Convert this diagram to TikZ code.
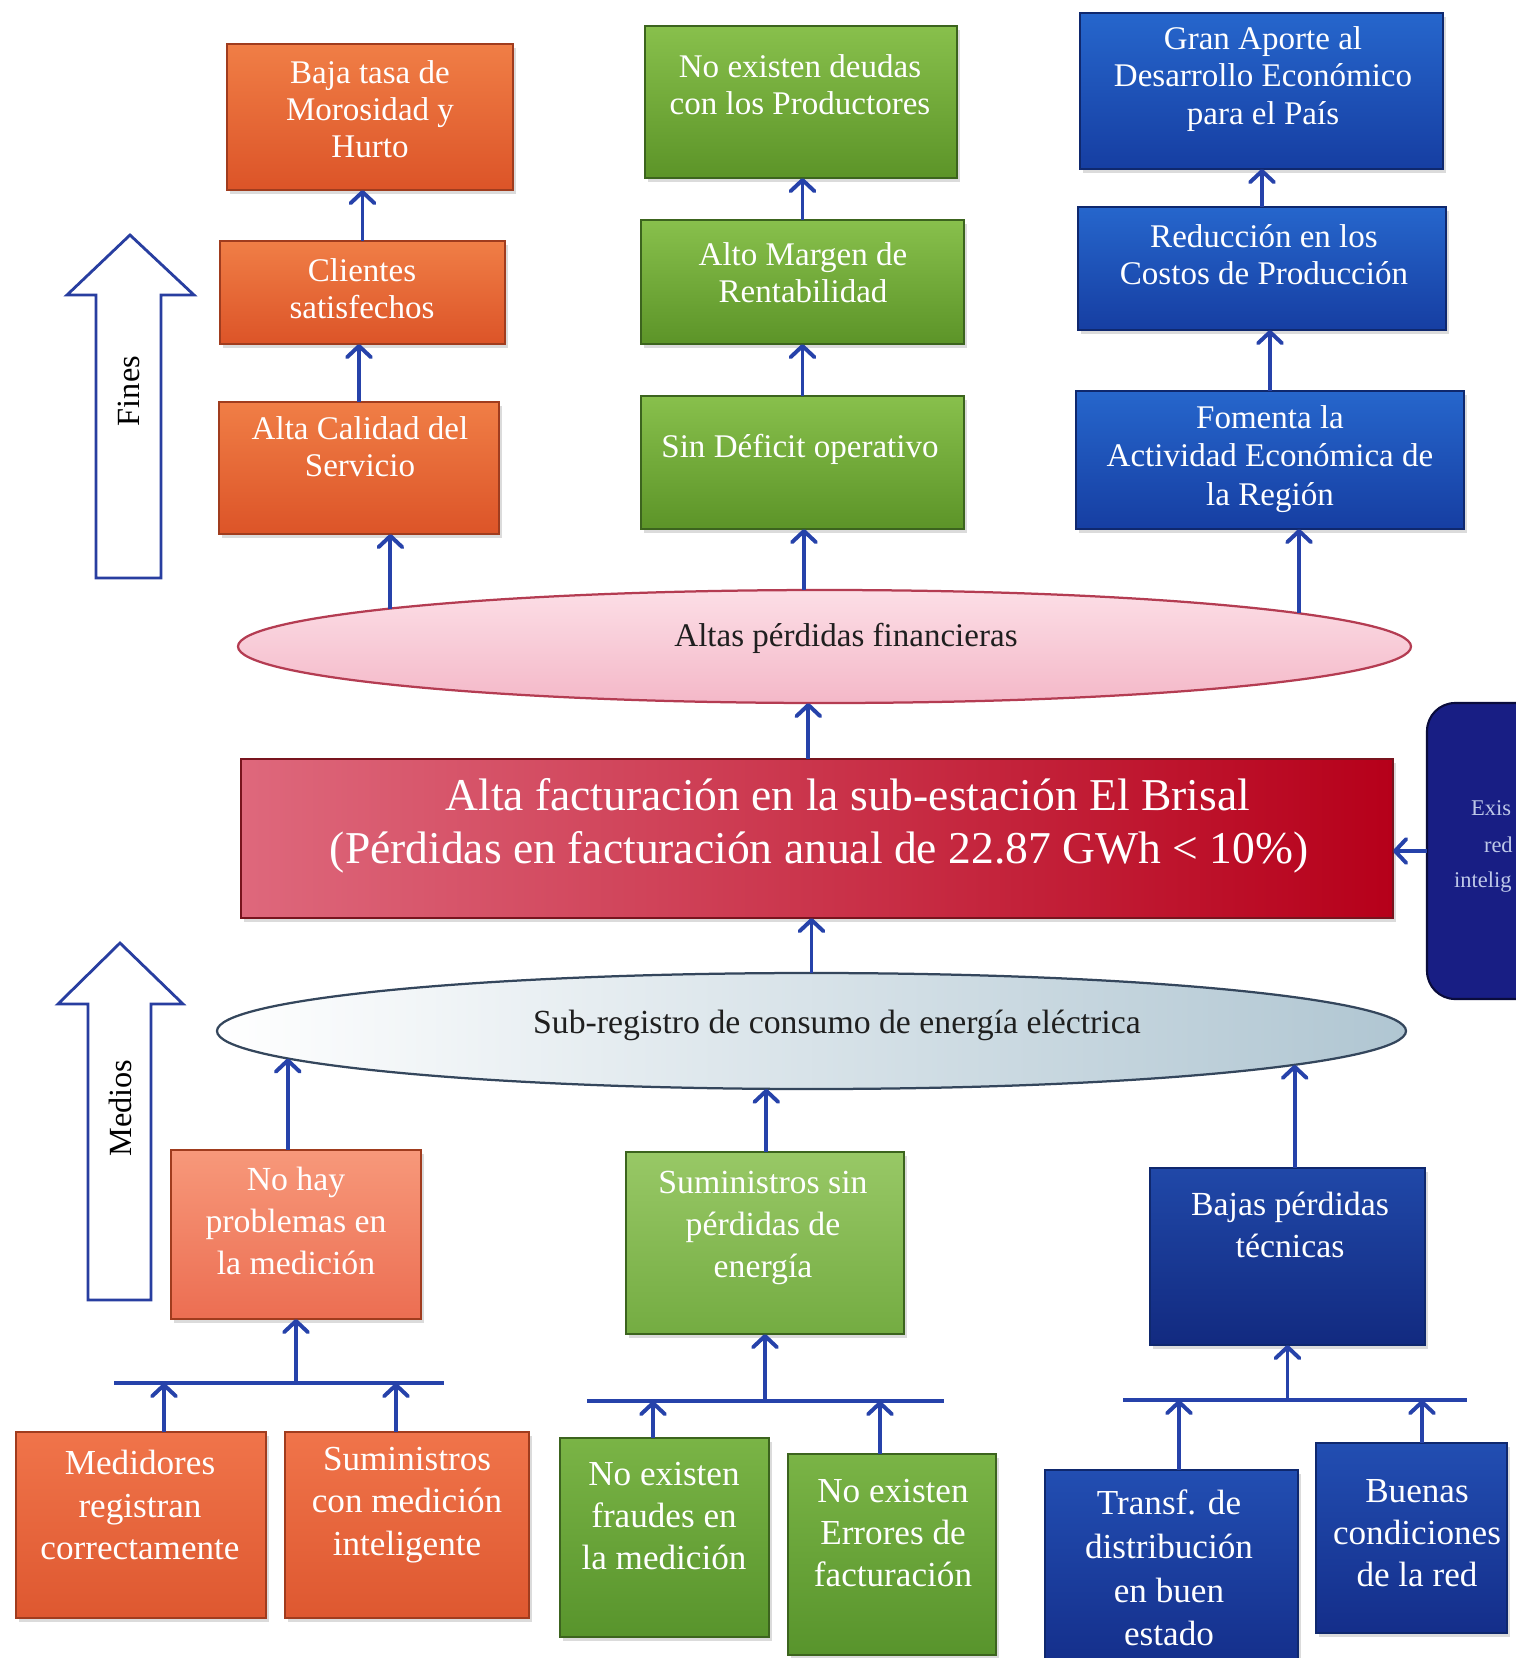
\documentclass[tikz,border=0pt]{standalone}
\usepackage{fontspec}
\setmainfont{Liberation Serif}
\usetikzlibrary{arrows.meta,shapes.geometric,shadows}

% one drawing unit = one pixel of a 1516 x 1658 page
\def\pu{0.025cm}

\definecolor{arrC}{RGB}{38,66,170}
\definecolor{blkC}{RGB}{40,62,160}
% upper chain colours
\definecolor{orT}{RGB}{240,126,70}
\definecolor{orB}{RGB}{220,84,40}
\definecolor{orE}{RGB}{160,60,30}
\definecolor{grT}{RGB}{136,192,76}
\definecolor{grB}{RGB}{92,148,40}
\definecolor{grE}{RGB}{60,100,30}
\definecolor{blT}{RGB}{38,102,204}
\definecolor{blB}{RGB}{22,62,162}
\definecolor{blE}{RGB}{15,40,110}
% middle row colours
\definecolor{soT}{RGB}{247,152,122}
\definecolor{soB}{RGB}{236,110,82}
\definecolor{lgT}{RGB}{152,200,102}
\definecolor{lgB}{RGB}{116,172,66}
\definecolor{dbT}{RGB}{32,72,168}
\definecolor{dbB}{RGB}{18,42,128}
% bottom row colours
\definecolor{boT}{RGB}{240,116,74}
\definecolor{boB}{RGB}{222,88,48}
\definecolor{bgT}{RGB}{122,180,70}
\definecolor{bgB}{RGB}{88,148,44}
\definecolor{bbT}{RGB}{34,78,178}
\definecolor{bbB}{RGB}{20,46,138}
% central problem box and ellipses
\definecolor{rL}{RGB}{222,104,124}
\definecolor{rM}{RGB}{210,66,90}
\definecolor{rR}{RGB}{182,0,26}
\definecolor{rE}{RGB}{120,20,30}
\definecolor{pkT}{RGB}{252,222,230}
\definecolor{pkB}{RGB}{244,184,200}
\definecolor{pkE}{RGB}{180,60,82}
\definecolor{gyR}{RGB}{176,198,210}
\definecolor{gyE}{RGB}{52,70,92}
\definecolor{nvF}{RGB}{24,30,132}
\definecolor{nvE}{RGB}{10,12,60}
\definecolor{nvT}{RGB}{190,200,232}

\tikzset{
  every node/.style={inner sep=0pt, outer sep=0pt},
  cbox/.style={rectangle, line width=0.9pt,
    drop shadow={opacity=0.28, shadow xshift=2pt, shadow yshift=-2.5pt}},
  orbox/.style={cbox, draw=orE, top color=orT, bottom color=orB},
  grbox/.style={cbox, draw=grE, top color=grT, bottom color=grB},
  blbox/.style={cbox, draw=blE, top color=blT, bottom color=blB},
  sobox/.style={cbox, draw=orE, top color=soT, bottom color=soB},
  lgbox/.style={cbox, draw=grE, top color=lgT, bottom color=lgB},
  dbbox/.style={cbox, draw=blE, top color=dbT, bottom color=dbB},
  bobox/.style={cbox, draw=orE, top color=boT, bottom color=boB},
  bgbox/.style={cbox, draw=grE, top color=bgT, bottom color=bgB},
  bbbox/.style={cbox, draw=blE, top color=bbT, bottom color=bbB},
  toptxt/.style={text=white, align=center, font=\fontsize{23.5}{26.5}\selectfont},
  midtxt/.style={text=white, align=center, font=\fontsize{24}{30}\selectfont},
  lowtxt/.style={text=white, align=center, font=\fontsize{25}{30}\selectfont},
  elltxt/.style={text=black!88, font=\fontsize{23.5}{28}\selectfont},
  navtxt/.style={anchor=west, text=nvT, font=\fontsize{16}{18}\selectfont},
  arr/.style={draw=arrC, line width=2.8pt,
    -{Straight Barb[length=8pt, width=17pt, round]}},
  bar/.style={draw=arrC, line width=3.4pt},
  blk/.style={draw=blkC, fill=white, line width=2pt, line join=miter},
  sidetxt/.style={rotate=90, text=black, font=\fontsize{23}{26}\selectfont},
}

\begin{document}
\begin{tikzpicture}[x=0.025cm, y=-0.025cm]
\useasboundingbox (0,0) rectangle (1516,1658);
\clip (0,0) rectangle (1516,1658);
\fill[white] (0,0) rectangle (1516,1658);

% ---------- ends (fines) ----------
\node[orbox, minimum width=286*\pu, minimum height=146*\pu] (o1) at (370,117) {};
\node[toptxt] (o1t) at (370,109) {Baja tasa de\\Morosidad y\\Hurto};
\node[grbox, minimum width=312*\pu, minimum height=152*\pu] (g1) at (801,102) {};
\node[toptxt] (g1t) at (800,85) {No existen deudas\\con los Productores};
\node[blbox, minimum width=363*\pu, minimum height=156*\pu] (b1) at (1261.5,91) {};
\node[toptxt] (b1t) at (1263,79) {Gran Aporte al\\Desarrollo Económico\\para el País};

\node[orbox, minimum width=285*\pu, minimum height=103*\pu] (o2) at (362.5,292.5) {};
\node[toptxt] (o2t) at (362,289) {Clientes\\satisfechos};
\node[grbox, minimum width=323*\pu, minimum height=124*\pu] (g2) at (802.5,282) {};
\node[toptxt] (g2t) at (803,273) {Alto Margen de\\Rentabilidad};
\node[blbox, minimum width=368*\pu, minimum height=123*\pu] (b2) at (1262,268.5) {};
\node[toptxt] (b2t) at (1264,255) {Reducción en los\\Costos de Producción};

\node[orbox, minimum width=280*\pu, minimum height=132*\pu] (o3) at (359,468) {};
\node[toptxt] (o3t) at (360,447) {Alta Calidad del\\Servicio};
\node[grbox, minimum width=323*\pu, minimum height=133*\pu] (g3) at (802.5,462.5) {};
\node[toptxt] (g3t) at (800,449) {Sin Déficit operativo};
\node[blbox, minimum width=388*\pu, minimum height=138*\pu] (b3) at (1270,460) {};
\node[toptxt, font=\fontsize{23.5}{27.5}\selectfont] (b3t) at (1270,459) {Fomenta la\\Actividad Económica de\\la Región};

% ---------- effect ellipse ----------
\node[ellipse, draw=pkE, line width=1.6pt, top color=pkT, bottom color=pkB,
      minimum width=1173*\pu, minimum height=113*\pu] (e1) at (824.5,646.5) {};
\node[elltxt] (e1t) at (846,638) {Altas pérdidas financieras};

% ---------- central problem ----------
\node[cbox, draw=rE, left color=rL, middle color=rM, right color=rR,
      minimum width=1152*\pu, minimum height=159*\pu] (r) at (817,838.5) {};
\node[text=white, align=center, font=\fontsize{32.4}{38}\selectfont] (rt) at (819,826)
  {\hspace*{41pt}Alta facturación en la sub-estación El Brisal\\(Pérdidas en facturación anual de 22.87 GWh < 10\%)};

% box at the right margin, partly beyond the page
\node[rectangle, rounded corners=20pt, draw=nvE, line width=1.5pt, fill=nvF,
      minimum width=143*\pu, minimum height=296*\pu] (s) at (1498.5,851) {};
\node[navtxt] (st1) at (1471,808) {Exis};
\node[navtxt] (st2) at (1484,845) {red};
\node[navtxt] (st3) at (1454,882) {intelig};

% ---------- cause ellipse ----------
\node[ellipse, draw=gyE, line width=1.6pt, left color=white, right color=gyR,
      minimum width=1189*\pu, minimum height=116*\pu] (e2) at (811.5,1031) {};
\node[elltxt, font=\fontsize{24}{28}\selectfont] (e2t) at (837,1025) {Sub-registro de consumo de energía eléctrica};

% ---------- means (medios) ----------
\node[sobox, minimum width=250*\pu, minimum height=169*\pu] (m1) at (296,1234.5) {};
\node[midtxt] (m1t) at (296,1221) {No hay\\problemas en\\la medición};
\node[lgbox, minimum width=278*\pu, minimum height=182*\pu] (m2) at (765,1243) {};
\node[midtxt] (m2t) at (763,1228) {Suministros sin\\pérdidas de\\energía};
\node[dbbox, minimum width=275*\pu, minimum height=177*\pu] (m3) at (1287.5,1256.5) {};
\node[midtxt] (m3t) at (1290,1225) {Bajas pérdidas\\técnicas};

\node[bobox, minimum width=250*\pu, minimum height=186*\pu] (l1) at (141,1525) {};
\node[lowtxt] (l1t) at (140,1505) {Medidores\\registran\\correctamente};
\node[bobox, minimum width=244*\pu, minimum height=186*\pu] (l2) at (407,1525) {};
\node[lowtxt] (l2t) at (407,1505) {Suministros\\con medición\\inteligente};
\node[bgbox, minimum width=209*\pu, minimum height=199*\pu] (l3) at (664.5,1537.5) {};
\node[lowtxt] (l3t) at (664,1516) {No existen\\fraudes en\\la medición};
\node[bgbox, minimum width=208*\pu, minimum height=201*\pu] (l4) at (892,1554.5) {};
\node[lowtxt] (l4t) at (893,1533) {No existen\\Errores de\\facturación};
\node[bbbox, minimum width=253*\pu, minimum height=200*\pu] (l5) at (1171.5,1570) {};
\node[lowtxt, font=\fontsize{25}{31}\selectfont] (l5t) at (1169,1568) {Transf. de\\distribución\\en buen\\estado};
\node[bbbox, minimum width=191*\pu, minimum height=190*\pu] (l6) at (1411.5,1538) {};
\node[lowtxt] (l6t) at (1417,1533) {Buenas\\condiciones\\de la red};

% ---------- side block arrows ----------
\draw[blk] (96,578) -- (96,295) -- (67,295) -- (130,235) -- (194,295) -- (161,295) -- (161,578) -- cycle;
\node[sidetxt] (fines) at (129,391) {Fines};
\draw[blk] (88,1300) -- (88,1004) -- (58,1004) -- (120,943) -- (183,1004) -- (151,1004) -- (151,1300) -- cycle;
\node[sidetxt] (medios) at (120,1108) {Medios};

% ---------- connectors of the ends ----------
\draw[arr] (o2.north) -- (o2.north |- o1.south);
\draw[arr] (o3.north) -- (o3.north |- o2.south);
\draw[arr] (g2.north) -- (g2.north |- g1.south);
\draw[arr] (g3.north) -- (g3.north |- g2.south);
\draw[arr] (b2.north) -- (b2.north |- b1.south);
\draw[arr] (b3.north) -- (b3.north |- b2.south);

\draw[arr] (e1.175.95) -- (e1.175.95 |- o3.south);
\draw[arr] (e1.110.85) -- (e1.110.85 |- g3.south);
\draw[arr] (e1.4.517) -- (e1.4.517 |- b3.south);

\draw[arr] (r.north -| e1.254.65) -- (e1.254.65);
\draw[arr] (e2.north) -- (e2.north |- r.south);
\draw[arr] (s.west) -- (s.west -| r.east);

% ---------- connectors of the means ----------
\draw[arr] (m1.north -| e2.183.31) -- (e2.183.31);
\draw[arr] (m2.north -| e2.232.42) -- (e2.232.42);
\draw[arr] (m3.north -| e2.356.03) -- (e2.356.03);

\coordinate (obL) at (114,1383);
\coordinate (obR) at (444,1383);
\coordinate (ob1) at (164,1383);
\coordinate (ob2) at (396,1383);
\draw[bar] (obL) -- (obR);
\draw[arr] (obL -| m1.south) -- (m1.south);
\draw[arr] (l1.north -| ob1) -- (ob1);
\draw[arr] (l2.north -| ob2) -- (ob2);

\coordinate (gbL) at (587,1401);
\coordinate (gbR) at (944,1401);
\coordinate (gb1) at (653,1401);
\coordinate (gb2) at (880,1401);
\draw[bar] (gbL) -- (gbR);
\draw[arr] (gbL -| m2.south) -- (m2.south);
\draw[arr] (l3.north -| gb1) -- (gb1);
\draw[arr] (l4.north -| gb2) -- (gb2);

\coordinate (bbL) at (1123,1400);
\coordinate (bbR) at (1467,1400);
\coordinate (bb1) at (1179,1400);
\coordinate (bb2) at (1422,1400);
\draw[bar] (bbL) -- (bbR);
\draw[arr] (bbL -| m3.south) -- (m3.south);
\draw[arr] (l5.north -| bb1) -- (bb1);
\draw[arr] (l6.north -| bb2) -- (bb2);
\end{tikzpicture}
\end{document}
